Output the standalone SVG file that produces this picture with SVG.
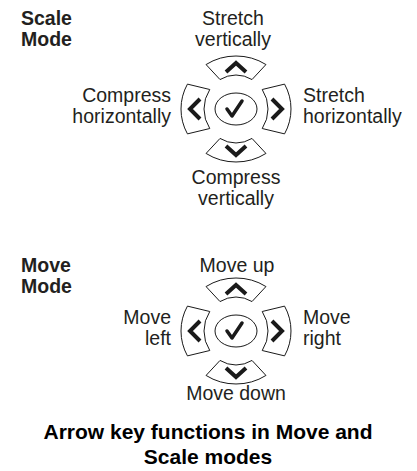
<svg xmlns="http://www.w3.org/2000/svg" xmlns:xlink="http://www.w3.org/1999/xlink" width="417" height="471" viewBox="0 0 417 471">
<style>
.key{fill:#fff;stroke:#1a1a1a;stroke-width:1}
.glyph{fill:none;stroke:#1a1a1a;stroke-width:4;stroke-linejoin:miter;stroke-linecap:butt}
.chk{fill:none;stroke:#1a1a1a;stroke-width:3.5;stroke-linejoin:round;stroke-linecap:round}
.t{font-family:"Liberation Sans",Arial,sans-serif;font-size:19.5px;fill:#231f20}
.b{font-family:"Liberation Sans",Arial,sans-serif;font-size:19.5px;font-weight:bold;fill:#231f20}
.cap{font-family:"Liberation Sans",Arial,sans-serif;font-size:21px;font-weight:bold;fill:#000}
</style>
<defs>
<g id="pad">
<path class="key" d="M -29.95,-44.45 A 55 53 0 0 1 29.95,-44.45 L 16,-29.44 A 32 34 0 0 0 -16,-29.44 Z"/>
<path class="key" d="M -29.95,44.45 A 55 53 0 0 0 29.95,44.45 L 16,29.44 A 32 34 0 0 1 -16,29.44 Z"/>
<path class="key" d="M -48.56,-24.88 A 55 53 0 0 0 -48.56,24.88 L -26.21,19.5 A 32 34 0 0 1 -26.21,-19.5 Z"/>
<path class="key" d="M 48.56,-24.88 A 55 53 0 0 1 48.56,24.88 L 26.21,19.5 A 32 34 0 0 0 26.21,-19.5 Z"/>
<ellipse class="key" cx="0" cy="0" rx="21" ry="16"/>
<path class="glyph" d="M -10,-37 L 0,-46 L 10,-37"/>
<path class="glyph" d="M -10,37 L 0,46 L 10,37"/>
<path class="glyph" d="M -36,-10 L -46,0 L -36,10"/>
<path class="glyph" d="M 36,-10 L 46,0 L 36,10"/>
<path class="chk" d="M -9,0 L -4,7 L 6,-8"/>
</g>
</defs>
<g id="scale-mode">
<text class="b" x="21" y="25">Scale</text>
<text class="b" x="21" y="46">Mode</text>
</g>
<g id="scale-pad">
<use xlink:href="#pad" transform="translate(236,109)"/>
</g>
<g id="scale-labels">
<text class="t" x="233" y="25" text-anchor="middle">Stretch</text>
<text class="t" x="233" y="46" text-anchor="middle">vertically</text>
<text class="t" x="171" y="102" text-anchor="end">Compress</text>
<text class="t" x="171" y="123" text-anchor="end">horizontally</text>
<text class="t" x="303" y="102">Stretch</text>
<text class="t" x="303" y="123">horizontally</text>
<text class="t" x="236" y="184" text-anchor="middle">Compress</text>
<text class="t" x="236" y="205" text-anchor="middle">vertically</text>
</g>
<g id="move-mode">
<text class="b" x="21" y="272">Move</text>
<text class="b" x="21" y="293">Mode</text>
</g>
<g id="move-pad">
<use xlink:href="#pad" transform="translate(236,331)"/>
</g>
<g id="move-labels">
<text class="t" x="237" y="272" text-anchor="middle">Move up</text>
<text class="t" x="171" y="324" text-anchor="end">Move</text>
<text class="t" x="171" y="345" text-anchor="end">left</text>
<text class="t" x="303" y="324">Move</text>
<text class="t" x="303" y="345">right</text>
<text class="t" x="236" y="400" text-anchor="middle">Move down</text>
</g>
<g id="caption">
<text class="cap" x="208" y="439" text-anchor="middle">Arrow key functions in Move and</text>
<text class="cap" x="208" y="464" text-anchor="middle">Scale modes</text>
</g>
<g id="connectors"/>
</svg>
